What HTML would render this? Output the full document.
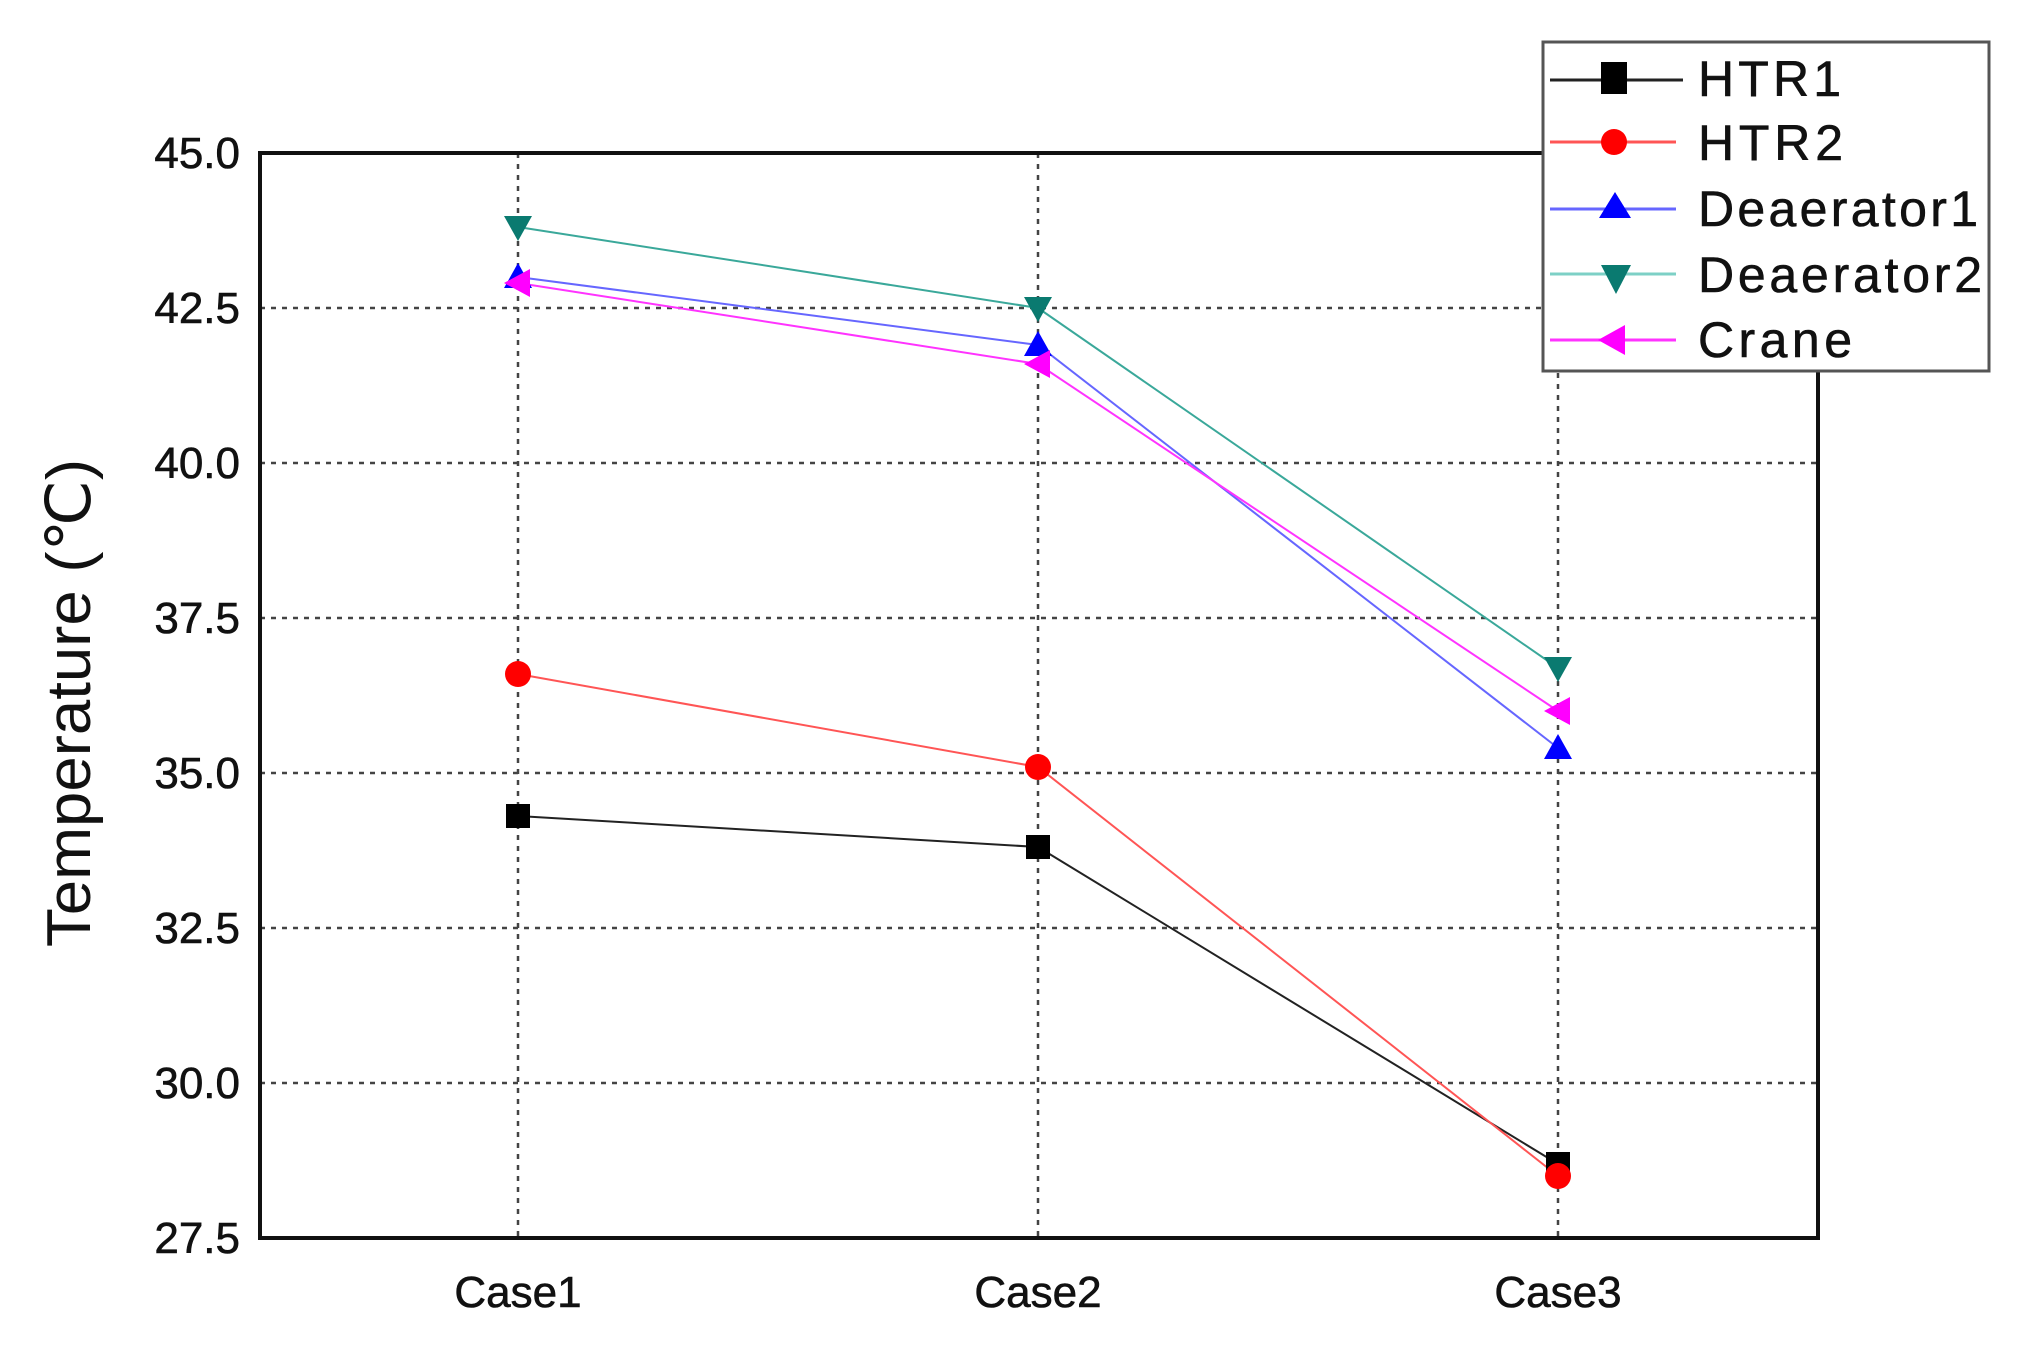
<!DOCTYPE html>
<html><head><meta charset="utf-8"><style>html,body{margin:0;padding:0;background:#fff}svg{display:block}</style></head>
<body>
<svg width="2030" height="1345" viewBox="0 0 2030 1345" xmlns="http://www.w3.org/2000/svg" font-family="Liberation Sans, DejaVu Sans, sans-serif">
<rect width="2030" height="1345" fill="#fff"/>
<g stroke="#444" stroke-width="2.5" stroke-dasharray="5,6">
<line x1="260" y1="308" x2="1818" y2="308"/>
<line x1="260" y1="463" x2="1818" y2="463"/>
<line x1="260" y1="618" x2="1818" y2="618"/>
<line x1="260" y1="773" x2="1818" y2="773"/>
<line x1="260" y1="928" x2="1818" y2="928"/>
<line x1="260" y1="1083" x2="1818" y2="1083"/>
<line x1="518" y1="153" x2="518" y2="1238"/>
<line x1="1038" y1="153" x2="1038" y2="1238"/>
<line x1="1558" y1="153" x2="1558" y2="1238"/>
</g>
<rect x="260" y="153" width="1558" height="1085" fill="none" stroke="#111" stroke-width="4"/>
<g font-size="44" fill="#111" text-anchor="end" stroke="#111" stroke-width="0.6">
<text x="240" y="168">45.0</text>
<text x="240" y="323">42.5</text>
<text x="240" y="478">40.0</text>
<text x="240" y="633">37.5</text>
<text x="240" y="788">35.0</text>
<text x="240" y="943">32.5</text>
<text x="240" y="1098">30.0</text>
<text x="240" y="1253">27.5</text>
</g>
<g font-size="44" fill="#111" text-anchor="middle" stroke="#111" stroke-width="0.6">
<text x="518" y="1307">Case1</text>
<text x="1038" y="1307">Case2</text>
<text x="1558" y="1307">Case3</text>
</g>
<text transform="translate(90,703) rotate(-90)" font-size="62" text-anchor="middle" fill="#111" textLength="488" lengthAdjust="spacingAndGlyphs">Temperature (℃)</text>
<polyline points="518,816 1038,847 1558,1164" fill="none" stroke="#222" stroke-width="2"/>
<polyline points="518,674 1038,767 1558,1176" fill="none" stroke="#f55" stroke-width="2"/>
<polyline points="518,277 1038,345 1558,748" fill="none" stroke="#66f" stroke-width="2"/>
<polyline points="518,227 1038,308 1558,668" fill="none" stroke="#3aa89a" stroke-width="2"/>
<polyline points="518,283 1038,364 1558,711" fill="none" stroke="#f3f" stroke-width="2"/>
<g fill="#000"><rect x="506" y="804" width="24" height="24"/><rect x="1026" y="835" width="24" height="24"/><rect x="1546" y="1152" width="24" height="24"/></g>
<g fill="#f00"><circle cx="518" cy="674" r="13"/><circle cx="1038" cy="767" r="13"/><circle cx="1558" cy="1176" r="13"/></g>
<g fill="#00f"><polygon points="518,263 532,288 504,288"/><polygon points="1038,331 1052,356 1024,356"/><polygon points="1558,734 1572,759 1544,759"/></g>
<g fill="#0a7a70"><polygon points="504,216 532,216 518,241"/><polygon points="1024,297 1052,297 1038,322"/><polygon points="1544,657 1572,657 1558,682"/></g>
<g fill="#f0f"><polygon points="504,283 530,269 530,297"/><polygon points="1024,364 1050,350 1050,378"/><polygon points="1544,711 1570,697 1570,725"/></g>
<g transform="translate(-7,0)">
<rect x="1550" y="42" width="446" height="329" fill="#fff" stroke="#555" stroke-width="3"/>
<line x1="1557" y1="80" x2="1690" y2="80" stroke="#222" stroke-width="3"/><rect x="1608" y="62" width="26" height="32" fill="#000"/>
<line x1="1557" y1="142" x2="1683" y2="142" stroke="#f55" stroke-width="3"/><circle cx="1621" cy="142" r="13" fill="#f00"/>
<line x1="1557" y1="209" x2="1683" y2="209" stroke="#66f" stroke-width="3"/><polygon points="1622,192 1638,218 1606,218" fill="#00f"/>
<line x1="1557" y1="274" x2="1683" y2="274" stroke="#7dd0c6" stroke-width="3"/><polygon points="1608,265 1638,265 1623,294" fill="#0a7a70"/>
<line x1="1557" y1="340" x2="1683" y2="340" stroke="#f3f" stroke-width="3"/><polygon points="1605,340 1632,325 1632,355" fill="#f0f"/>
<g font-size="50" fill="#111" stroke="#111" stroke-width="0.6" lengthAdjust="spacingAndGlyphs">
<text x="1705" y="96" textLength="143">HTR1</text>
<text x="1705" y="160" textLength="145">HTR2</text>
<text x="1705" y="226" textLength="280">Deaerator1</text>
<text x="1705" y="292" textLength="284">Deaerator2</text>
<text x="1705" y="357" textLength="154">Crane</text>
</g>
</g>
</svg>
</body></html>
